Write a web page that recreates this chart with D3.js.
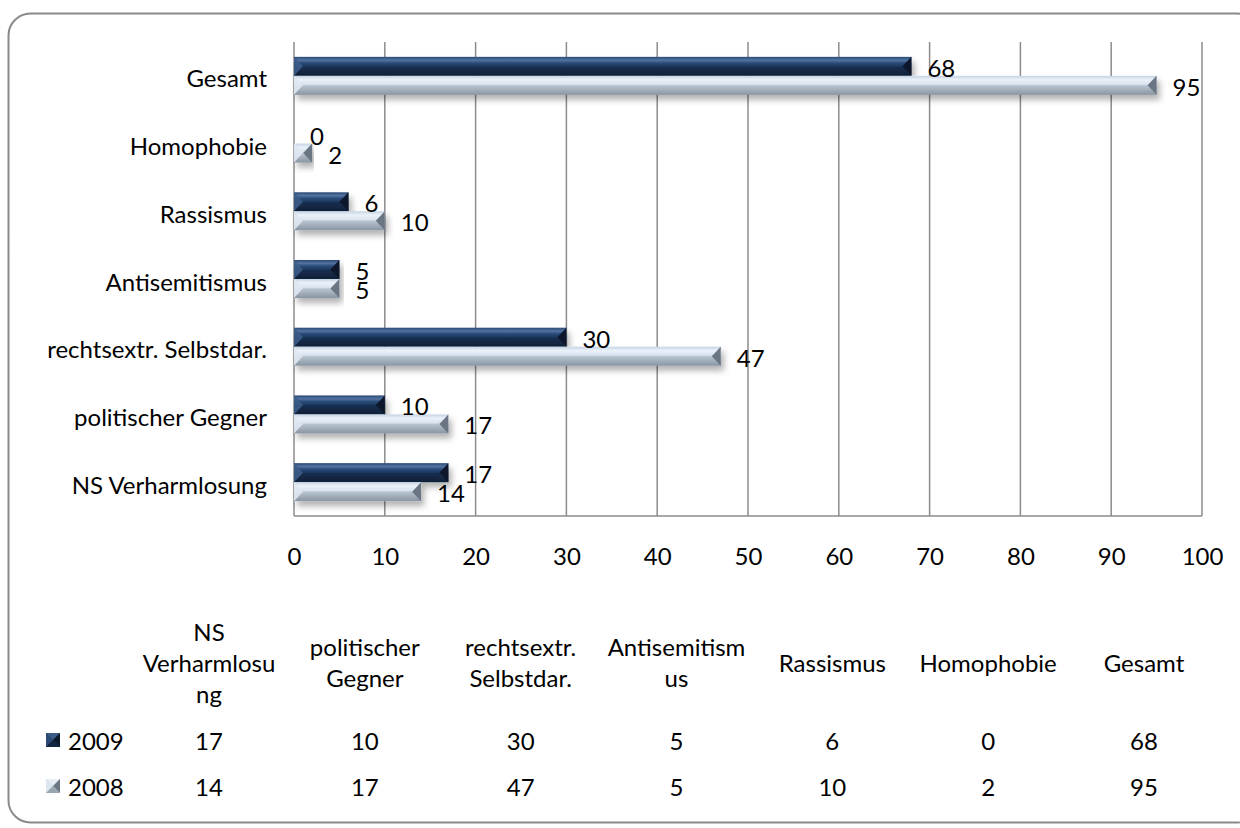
<!DOCTYPE html>
<html><head><meta charset="utf-8">
<script src="https://cdn.jsdelivr.net/npm/d3@7"></script>
<style>body{margin:0;background:#fff;}svg{display:block;font-family:Lato,"Open Sans",sans-serif;}</style>
</head><body>
<svg id="c" width="1240" height="828"></svg>
<script>
const categories = ["Gesamt","Homophobie","Rassismus","Antisemitismus","rechtsextr. Selbstdar.","politischer Gegner","NS Verharmlosung"];
const values2009 = [68,0,6,5,30,10,17];
const values2008 = [95,2,10,5,47,17,14];
const seriesNames = ["2009","2008"];
const xTicks = [0,10,20,30,40,50,60,70,80,90,100];
// data table (order as in Excel table)
const tableHeaders = [["NS","Verharmlosu","ng"],["politischer","Gegner"],["rechtsextr.","Selbstdar."],["Antisemitism","us"],["Rassismus"],["Homophobie"],["Gesamt"]];
const tableCats = ["NS Verharmlosung","politischer Gegner","rechtsextr. Selbstdar.","Antisemitismus","Rassismus","Homophobie","Gesamt"];

const svg = d3.select("#c");
const FS = 24;
const defs = svg.append("defs");
function grad(id, stops){
  const g = defs.append("linearGradient").attr("id",id).attr("x1",0).attr("y1",0).attr("x2",0).attr("y2",1);
  stops.forEach(s=>g.append("stop").attr("offset",s[0]).attr("stop-color",s[1]));
}
grad("gDark",[[0,"#2a4a75"],[0.18,"#5373a0"],[0.32,"#2b4b77"],[0.5,"#1c385f"],[0.52,"#182f50"],[1,"#0f1f36"]]);
grad("gLight",[[0,"#c5d3e4"],[0.2,"#eaf1f9"],[0.45,"#d9e3ef"],[0.52,"#b8c3d0"],[1,"#8a95a3"]]);
const f = defs.append("filter").attr("id","sh").attr("x","-5%").attr("y","-30%").attr("width","115%").attr("height","180%");
f.append("feDropShadow").attr("dx",3).attr("dy",5).attr("stdDeviation",3).attr("flood-color","#000").attr("flood-opacity",0.3);

// outer border
svg.append("rect").attr("x",8.5).attr("y",13.5).attr("width",1250).attr("height",809)
  .attr("rx",22).attr("fill","none").attr("stroke","#8a8a8a").attr("stroke-width",2);

const x = d3.scaleLinear().domain([0,100]).range([294,1202]);
const y = d3.scaleBand().domain(categories).range([42,516]);
const barH = 19;

// gridlines
svg.append("g").selectAll("line").data(xTicks).join("line")
  .attr("x1",d=>x(d)).attr("x2",d=>x(d)).attr("y1",42).attr("y2",516)
  .attr("stroke","#8c8c8c").attr("stroke-width",1.5);
svg.append("line").attr("x1",x(0)).attr("x2",x(100)).attr("y1",516).attr("y2",516).attr("stroke","#8c8c8c").attr("stroke-width",1.5);

// tick labels
const xAxis = d3.axisBottom(x).tickValues(xTicks).tickSize(0).tickPadding(0);
const ax = svg.append("g").attr("transform","translate(0,557)").call(xAxis);
ax.select(".domain").remove();
ax.selectAll("text").attr("font-size",FS).attr("font-family","Lato").attr("fill","#000").attr("dy","0.35em").attr("y",0);

// category labels
svg.append("g").selectAll("text").data(categories).join("text")
  .attr("x",267).attr("y",d=>y(d)+y.bandwidth()/2+2).attr("text-anchor","end")
  .attr("dominant-baseline","central").attr("font-size",FS).text(d=>d);

function bevelBar(g, x0, x1, y0, h, dark){
  const w = x1 - x0;
  const b = Math.min(9, w/2);
  const ym = y0 + h/2, y1 = y0 + h;
  g.append("rect").attr("x",x0).attr("y",y0).attr("width",Math.max(w,0)).attr("height",h)
    .attr("fill", dark? "url(#gDark)":"url(#gLight)");
  if (w <= 0) return;
  g.append("polygon").attr("points",`${x0},${y0} ${x0+b},${ym} ${x0},${y1}`)
    .attr("fill", dark? "#3b5c88":"#dfe7f1").attr("opacity",0.9);
  g.append("polygon").attr("points",`${x1},${y0} ${x1-b},${ym} ${x1},${y1}`)
    .attr("fill", dark? "#0c192b":"#6b7683");
}

const bars = svg.append("g");
categories.forEach((c,i)=>{
  const mid = y(c)+y.bandwidth()/2;
  const g = bars.append("g").attr("filter","url(#sh)");
  bevelBar(g, x(0), x(values2009[i]), mid-barH, barH, true);
  bevelBar(g, x(0), x(values2008[i]), mid, barH, false);
});
// value labels
const lab = svg.append("g").attr("font-size",FS);
categories.forEach((c,i)=>{
  const mid = y(c)+y.bandwidth()/2;
  lab.append("text").attr("x",x(values2009[i])+16).attr("y",mid-barH/2+1).attr("dominant-baseline","central").text(values2009[i]);
  lab.append("text").attr("x",x(values2008[i])+16).attr("y",mid+barH/2+1).attr("dominant-baseline","central").text(values2008[i]);
});

// data table
const colX = d3.scalePoint().domain(tableCats).range([209,1144]);
const tbl = svg.append("g").attr("font-size",FS).attr("text-anchor","middle");
tableCats.forEach((c,i)=>{
  const lines = tableHeaders[i];
  const n = lines.length;
  lines.forEach((t,k)=>{
    tbl.append("text").attr("x",colX(c)).attr("y",662+(k-(n-1)/2)*31).attr("dominant-baseline","central").text(t);
  });
  const idx = categories.indexOf(c);
  tbl.append("text").attr("x",colX(c)).attr("y",740).attr("dominant-baseline","central").text(values2009[idx]);
  tbl.append("text").attr("x",colX(c)).attr("y",786).attr("dominant-baseline","central").text(values2008[idx]);
});
// legend keys
const rowsY = [740,786];
seriesNames.forEach((s,k)=>{
  const cy = rowsY[k], x0=46, s0=14, y0=cy-7;
  const g = svg.append("g");
  const dark = k===0;
  g.append("rect").attr("x",x0).attr("y",y0).attr("width",s0).attr("height",s0).attr("fill",dark?"#1c385f":"#c9d5e3");
  g.append("polygon").attr("points",`${x0},${y0} ${x0+s0},${y0} ${x0+s0/2},${y0+s0/2}`).attr("fill",dark?"#3b5c88":"#e8eef6");
  g.append("polygon").attr("points",`${x0},${y0} ${x0+s0/2},${y0+s0/2} ${x0},${y0+s0}`).attr("fill",dark?"#2c4a75":"#dde5ef");
  g.append("polygon").attr("points",`${x0+s0},${y0} ${x0+s0},${y0+s0} ${x0+s0/2},${y0+s0/2}`).attr("fill",dark?"#0c192b":"#6b7683");
  g.append("polygon").attr("points",`${x0},${y0+s0} ${x0+s0},${y0+s0} ${x0+s0/2},${y0+s0/2}`).attr("fill",dark?"#122540":"#9aa5b2");
  svg.append("text").attr("x",68).attr("y",cy).attr("dominant-baseline","central").attr("font-size",FS).text(s);
});
</script>
</body></html>
